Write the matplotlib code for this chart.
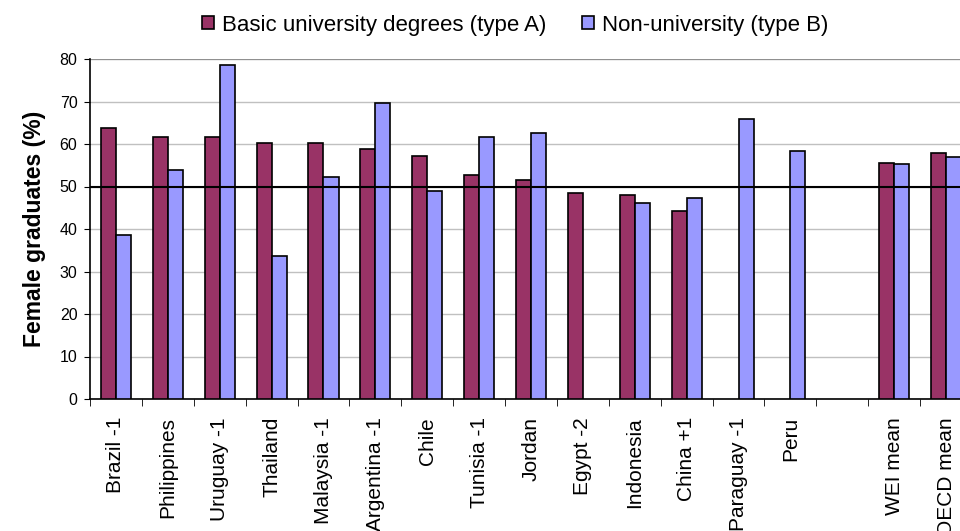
import numpy as np
import matplotlib.pyplot as plt

plt.rcParams['font.family'] = ['Liberation Sans', 'DejaVu Sans']

countries = ['Brazil -1', 'Philippines', 'Uruguay -1', 'Thailand', 'Malaysia -1',
             'Argentina -1', 'Chile', 'Tunisia -1', 'Jordan', 'Egypt -2',
             'Indonesia', 'China +1', 'Paraguay -1', 'Peru', '',
             'WEI mean', 'OECD mean']
type_a = [63.7, 61.7, 61.7, 60.2, 60.2, 58.8, 57.2, 52.7, 51.5, 48.5,
          48.1, 44.3, np.nan, np.nan, np.nan, 55.6, 58.0]
type_b = [38.6, 53.8, 78.5, 33.7, 52.3, 69.7, 48.9, 61.7, 62.5, np.nan,
          46.2, 47.4, 66.0, 58.4, np.nan, 55.3, 56.9]
reference_level = 50

fig = plt.figure(figsize=(9.6, 5.31), dpi=100)
ax = fig.add_axes([90 / 960, 1 - 399 / 531, 882 / 960, 340 / 531])

x = np.arange(len(countries))
w = 0.29
ax.bar(x - w / 2, type_a, w, color='#993366', edgecolor='black', linewidth=1.2,
       label='Basic university degrees (type A)', zorder=3)
ax.bar(x + w / 2, type_b, w, color='#9999FF', edgecolor='black', linewidth=1.2,
       label='Non-university (type B)', zorder=3)

ax.axhline(reference_level, color='black', linewidth=1.5, zorder=4)

ax.set_xlim(-0.5, len(countries) - 0.5)
ax.set_ylim(0, 80)
ax.set_yticks(np.arange(0, 81, 10))
ax.yaxis.grid(True, color='#c0c0c0', linewidth=1, zorder=0)
ax.tick_params(axis='y', labelsize=11.5, length=4, direction='out', color='black', pad=5)

ax.set_xticks(x)
ax.set_xticklabels(countries, rotation=90, fontsize=15)
ax.set_xticks(np.arange(-0.5, len(countries), 1), minor=True)
ax.tick_params(axis='x', which='major', length=0, pad=13)
ax.tick_params(axis='x', which='minor', length=5, color='black')

for side in ['top', 'right']:
    ax.spines[side].set_visible(False)
ax.spines['left'].set_linewidth(1.2)
ax.spines['bottom'].set_linewidth(1.2)
ax.axhline(80, color='#909090', linewidth=1.5, zorder=2)

ax.set_ylabel('Female graduates (%)', fontsize=16.5, fontweight='bold', labelpad=10)

fig.legend(loc='center', bbox_to_anchor=(515.5 / 960, 1 - 25 / 531), ncol=2,
           frameon=False, fontsize=16, handlelength=0.55, handleheight=0.55,
           handletextpad=0.36, columnspacing=1.6, borderaxespad=0)

fig.savefig('out.png', dpi=100)
